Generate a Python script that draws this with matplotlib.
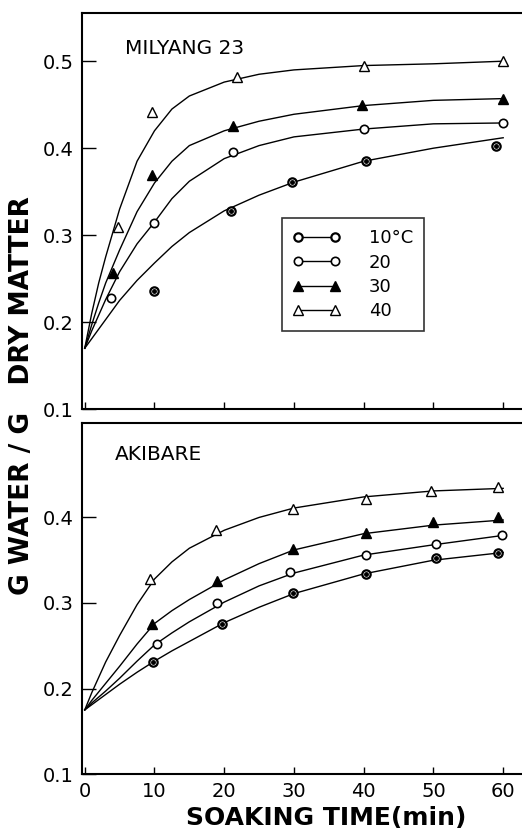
import matplotlib
matplotlib.use("Agg")
import matplotlib.pyplot as plt
from matplotlib.lines import Line2D

plt.rcParams['font.family'] = ['DejaVu Sans']

temps = ["10°C", "20", "30", "40"]
x_ticks = [0, 10, 20, 30, 40, 50, 60]

# smooth (hand drawn) curves
curve_x = [0, 1, 2, 3, 5, 7.5, 10, 12.5, 15, 20, 25, 30, 40, 50, 60]

# MILYANG 23
mil_curve_10 = [0.17, 0.181, 0.192, 0.203, 0.225, 0.248, 0.268, 0.287, 0.303, 0.328, 0.346, 0.361, 0.385, 0.400, 0.412]
mil_curve_20 = [0.17, 0.190, 0.208, 0.226, 0.258, 0.290, 0.315, 0.342, 0.362, 0.388, 0.403, 0.413, 0.422, 0.428, 0.429]
mil_curve_30 = [0.17, 0.197, 0.222, 0.245, 0.283, 0.327, 0.360, 0.385, 0.403, 0.420, 0.431, 0.439, 0.449, 0.455, 0.457]
mil_curve_40 = [0.17, 0.210, 0.245, 0.275, 0.330, 0.385, 0.420, 0.445, 0.460, 0.476, 0.485, 0.490, 0.495, 0.497, 0.500]

mil_x_10 = [9.9, 21, 29.7, 40.4, 59]
mil_y_10 = [0.236, 0.328, 0.361, 0.385, 0.403]
mil_x_20 = [3.8, 9.9, 21.3, 40, 60]
mil_y_20 = [0.228, 0.314, 0.396, 0.422, 0.429]
mil_x_30 = [4.0, 9.6, 21.3, 39.7, 60]
mil_y_30 = [0.257, 0.369, 0.426, 0.450, 0.457]
mil_x_40 = [4.8, 9.6, 21.8, 40, 60]
mil_y_40 = [0.309, 0.442, 0.482, 0.495, 0.500]

# AKIBARE
aki_curve_10 = [0.175, 0.181, 0.187, 0.193, 0.205, 0.219, 0.232, 0.244, 0.255, 0.277, 0.295, 0.311, 0.334, 0.350, 0.359]
aki_curve_20 = [0.175, 0.183, 0.190, 0.197, 0.212, 0.232, 0.251, 0.265, 0.278, 0.301, 0.320, 0.335, 0.356, 0.368, 0.379]
aki_curve_30 = [0.175, 0.186, 0.196, 0.206, 0.226, 0.252, 0.276, 0.291, 0.304, 0.327, 0.346, 0.362, 0.381, 0.391, 0.397]
aki_curve_40 = [0.175, 0.195, 0.213, 0.231, 0.262, 0.298, 0.328, 0.348, 0.364, 0.385, 0.400, 0.411, 0.424, 0.431, 0.434]

aki_x_10 = [9.8, 19.7, 29.9, 40.3, 50.4, 59.3]
aki_y_10 = [0.231, 0.276, 0.312, 0.334, 0.353, 0.359]
aki_x_20 = [10.3, 19, 29.4, 40.4, 50.4, 59.9]
aki_y_20 = [0.252, 0.300, 0.336, 0.356, 0.369, 0.379]
aki_x_30 = [9.7, 19, 29.8, 40.4, 50, 59.3]
aki_y_30 = [0.276, 0.326, 0.363, 0.382, 0.395, 0.400]
aki_x_40 = [9.3, 18.8, 29.8, 40.4, 49.7, 59.3]
aki_y_40 = [0.328, 0.385, 0.410, 0.422, 0.431, 0.435]

# marker styles per temperature
styles = {
    "10": dict(marker="o", ms=6, mfc="white", mec="black", mew=1.6),
    "20": dict(marker="o", ms=6, mfc="white", mec="black", mew=1.2),
    "30": dict(marker="^", ms=7, mfc="black", mec="black", mew=1.0),
    "40": dict(marker="^", ms=7, mfc="white", mec="black", mew=1.0),
}


def draw_panel(ax, curves, points):
    for c in curves:
        ax.plot(curve_x, c, color="black", lw=1.0, zorder=2)
    for key, (px, py) in points.items():
        ax.plot(px, py, ls="none", zorder=3, **styles[key])
        if key == "10":
            # dot in the middle of the circle
            ax.plot(px, py, ls="none", marker="o", ms=2.5, color="black", zorder=4)
    ax.set_xlim(-0.4, 62.7)
    ax.set_xticks(x_ticks)
    ax.tick_params(direction="in", width=1, labelsize=14, pad=6)
    ax.tick_params(axis="x", length=5)
    ax.tick_params(axis="y", length=10)
    ax.spines["right"].set_visible(False)
    for s in ["left", "top", "bottom"]:
        ax.spines[s].set_linewidth(1.5)


fig = plt.figure(figsize=(5.22, 8.35), dpi=100)
ax1 = fig.add_axes([0.157, 0.510, 0.843, 0.474])
ax2 = fig.add_axes([0.157, 0.073, 0.843, 0.420])

draw_panel(ax1, [mil_curve_10, mil_curve_20, mil_curve_30, mil_curve_40],
           {"10": (mil_x_10, mil_y_10), "20": (mil_x_20, mil_y_20),
            "30": (mil_x_30, mil_y_30), "40": (mil_x_40, mil_y_40)})
ax1.set_ylim(0.1, 0.555)
ax1.set_yticks([0.1, 0.2, 0.3, 0.4, 0.5])
ax1.set_yticklabels(["0.1", "0.2", "0.3", "0.4", "0.5"])
ax1.tick_params(axis="x", labelbottom=False)
ax1.text(0.098, 0.912, "MILYANG 23", transform=ax1.transAxes, fontsize=14.5, va="center")

draw_panel(ax2, [aki_curve_10, aki_curve_20, aki_curve_30, aki_curve_40],
           {"10": (aki_x_10, aki_y_10), "20": (aki_x_20, aki_y_20),
            "30": (aki_x_30, aki_y_30), "40": (aki_x_40, aki_y_40)})
ax2.set_ylim(0.1, 0.51)
ax2.set_yticks([0.1, 0.2, 0.3, 0.4])
ax2.set_yticklabels(["0.1", "0.2", "0.3", "0.4"])
ax2.text(0.075, 0.912, "AKIBARE", transform=ax2.transAxes, fontsize=14.5, va="center")

# legend (top panel)
handles = []
for key in ["10", "20", "30", "40"]:
    handles.append(Line2D([0], [0], color="black", lw=1.0, **styles[key]))
leg = ax1.legend(handles, temps, loc="upper left", bbox_to_anchor=(0.455, 0.482),
                 borderaxespad=0, numpoints=2, handlelength=2.6, fontsize=13,
                 frameon=True, fancybox=False, edgecolor="black", borderpad=0.6,
                 labelspacing=0.35, handletextpad=1.6)
leg.get_frame().set_linewidth(1.2)

fig.text(0.042, 0.526, "G WATER / G   DRY MATTER", rotation=90, fontsize=19,
         fontweight="heavy", ha="center", va="center")
fig.text(0.625, 0.020, "SOAKING TIME(min)", fontsize=18, fontweight="heavy",
         ha="center", va="center")

fig.savefig("out.png", dpi=100)
